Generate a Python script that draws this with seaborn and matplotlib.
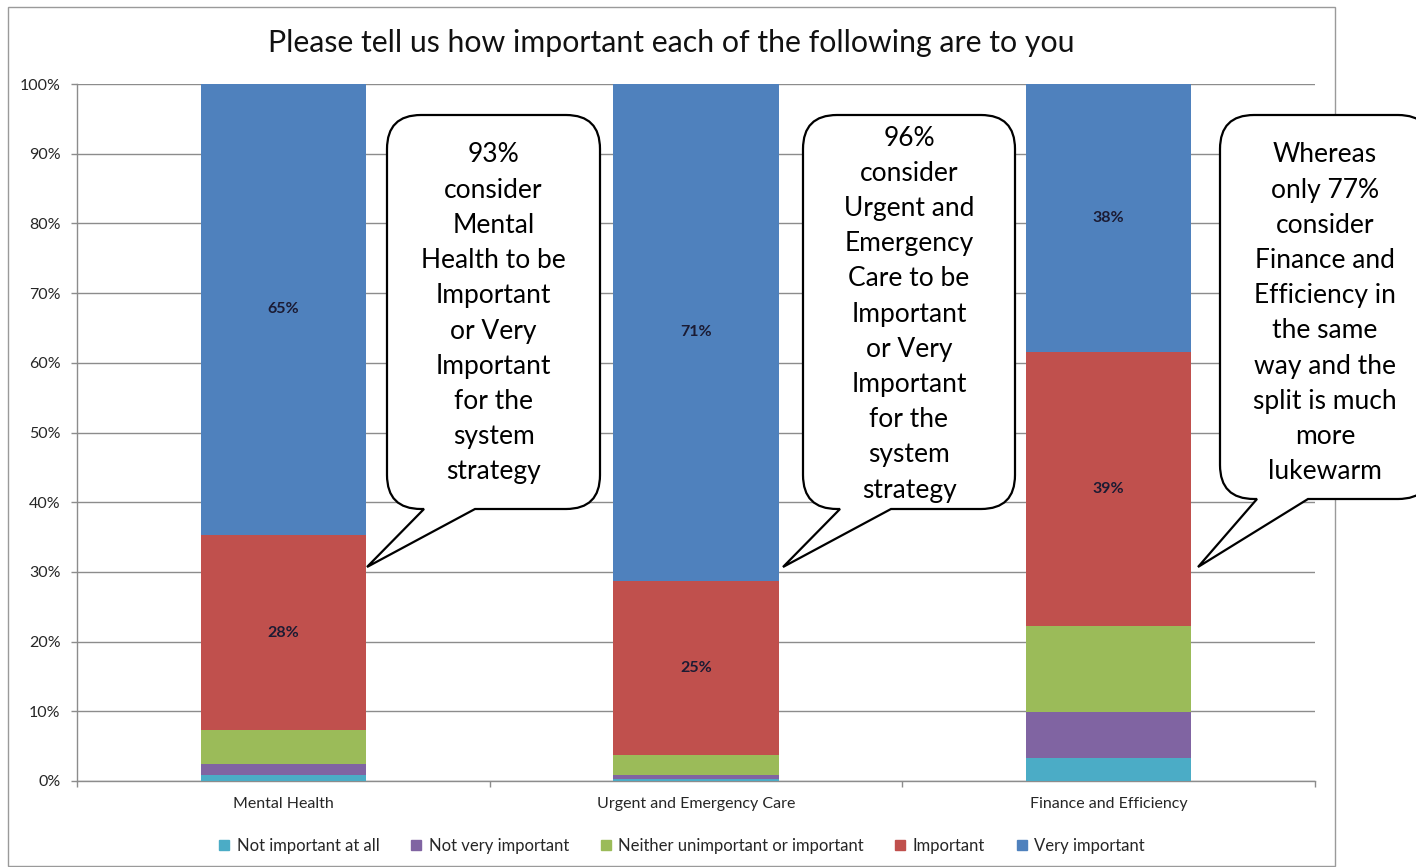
import numpy as np
import matplotlib
matplotlib.use("Agg")
import matplotlib.pyplot as plt
import seaborn as sns
from matplotlib.path import Path
from matplotlib.patches import PathPatch, Rectangle
from matplotlib.lines import Line2D

# ---- data -------------------------------------------------------------
categories = ["Mental Health", "Urgent and Emergency Care", "Finance and Efficiency"]
series_names = ["Not important at all", "Not very important",
                "Neither unimportant or important", "Important", "Very important"]
not_important_at_all = [0.9, 0.3, 3.3]
not_very_important = [1.5, 0.5, 6.6]
neither_important = [4.9, 2.9, 12.4]
important = [28.0, 25.0, 39.3]
very_important = [64.7, 71.3, 38.4]
labelled_series = ["Important", "Very important"]
y_ticks = [0, 10, 20, 30, 40, 50, 60, 70, 80, 90, 100]

title = "Please tell us how important each of the following are to you"
callout_texts = [
    ["93%", "consider", "Mental", "Health to be", "Important", "or Very",
     "Important", "for the", "system", "strategy"],
    ["96%", "consider", "Urgent and", "Emergency", "Care to be", "Important",
     "or Very", "Important", "for the", "system", "strategy"],
    ["Whereas", "only 77%", "consider", "Finance and", "Efficiency in",
     "the same", "way and the", "split is much", "more", "lukewarm"],
]

# ---- style ------------------------------------------------------------
sns.set_style("white")
plt.rcParams["font.family"] = ["Lato", "DejaVu Sans"]
colors = ["#4BACC6", "#8064A2", "#9BBB59", "#C0504D", "#4F81BD"]
grid_grey = "#8c8c8c"
W, H = 1416, 867

fig = plt.figure(figsize=(W / 100, H / 100), dpi=100)
fig.patch.set_facecolor("white")


def fx(px):
    return px / W


def fy(py):
    return 1 - py / H


# outer chart frame
fig.add_artist(Rectangle((fx(8), fy(866)), fx(1335) - fx(8), fy(7) - fy(866),
                         transform=fig.transFigure, fill=False,
                         edgecolor="#9a9a9a", linewidth=1.0, zorder=0))

ax = fig.add_axes([fx(77), fy(781), fx(1315) - fx(77), fy(84) - fy(781)])

# ---- stacked bars -----------------------------------------------------
series_values = [not_important_at_all, not_very_important, neither_important,
                 important, very_important]
bottom = np.zeros(len(categories))
for name, vals, col in zip(series_names, series_values, colors):
    vals = np.asarray(vals, dtype=float)
    sns.barplot(x=categories, y=vals, order=categories, color=col,
                saturation=1, width=0.4, bottom=bottom, errorbar=None,
                linewidth=0, ax=ax, zorder=3)
    if name in labelled_series:
        ax.bar_label(ax.containers[-1], labels=[f"{v:.0f}%" for v in vals],
                     label_type="center", fontsize=11.5, fontweight="bold",
                     color="#1b1b33", zorder=5)
    bottom += vals

# ---- axes -------------------------------------------------------------
ax.set_xlim(-0.5, len(categories) - 0.5)
ax.set_ylim(0, 100)
ax.set_yticks(y_ticks)
ax.set_yticklabels([f"{t}%" for t in y_ticks])
ax.set_xlabel("")
ax.set_ylabel("")
ax.yaxis.grid(True, color=grid_grey, linewidth=1.0, zorder=0)
ax.set_axisbelow(True)
for side in ["top", "right"]:
    ax.spines[side].set_visible(False)
for side in ["left", "bottom"]:
    ax.spines[side].set_color(grid_grey)
    ax.spines[side].set_linewidth(1.0)
ax.tick_params(axis="y", which="major", left=True, length=4, width=1,
               color=grid_grey, labelsize=11.5, labelcolor="#262626", pad=8)
ax.tick_params(axis="x", which="major", bottom=False, labelsize=11.5,
               labelcolor="#262626", pad=8)
ax.set_xticks(np.arange(-0.5, len(categories)), minor=True)
ax.tick_params(axis="x", which="minor", bottom=True, length=4, width=1,
               color=grid_grey)

# ---- title ------------------------------------------------------------
fig.text(fx(671), fy(43), title, ha="center", va="center", fontsize=21.8,
         color="#111111")

# ---- legend -----------------------------------------------------------
handles = [Line2D([0], [0], marker="s", linestyle="none", markersize=6.5,
                  markerfacecolor=c, markeredgecolor=c) for c in colors]
fig.legend(handles, series_names, loc="center", bbox_to_anchor=(fx(682), fy(846)),
           ncol=5, frameon=False, fontsize=12, handlelength=0.6,
           handletextpad=0.45, columnspacing=1.9, labelcolor="#262626")


# ---- speech-bubble callouts -------------------------------------------
def bubble(x0, y0, x1, y1, r, base_l, base_r, tip):
    pts = [
        ((x0 + r, y0), Path.MOVETO),
        ((x1 - r, y0), Path.LINETO),
        ((x1, y0), Path.CURVE3), ((x1, y0 + r), Path.CURVE3),
        ((x1, y1 - r), Path.LINETO),
        ((x1, y1), Path.CURVE3), ((x1 - r, y1), Path.CURVE3),
        ((base_r, y1), Path.LINETO),
        (tip, Path.LINETO),
        ((base_l, y1), Path.LINETO),
        ((x0 + r, y1), Path.LINETO),
        ((x0, y1), Path.CURVE3), ((x0, y1 - r), Path.CURVE3),
        ((x0, y0 + r), Path.LINETO),
        ((x0, y0), Path.CURVE3), ((x0 + r, y0), Path.CURVE3),
        ((x0 + r, y0), Path.CLOSEPOLY),
    ]
    verts = [(fx(p[0]), fy(p[1])) for p, _ in pts]
    codes = [c for _, c in pts]
    fig.add_artist(PathPatch(Path(verts, codes), transform=fig.transFigure,
                             facecolor="white", edgecolor="black",
                             linewidth=1.6, joinstyle="miter", zorder=10))


boxes = [
    dict(x0=387, y0=115, x1=600, y1=509, tip=(367, 567), first=155),
    dict(x0=803, y0=115, x1=1015, y1=509, tip=(783, 567), first=138),
    dict(x0=1220, y0=115, x1=1432, y1=499, tip=(1198, 567), first=155),
]
line_step = 35.2
for box, lines in zip(boxes, callout_texts):
    bubble(box["x0"], box["y0"], box["x1"], box["y1"], 34,
           box["x0"] + 37, box["x0"] + 88, box["tip"])
    cx = (box["x0"] + min(box["x1"], 1430)) / 2
    for i, line in enumerate(lines):
        fig.text(fx(cx), fy(box["first"] + i * line_step), line,
                 ha="center", va="center", fontsize=19, color="black",
                 zorder=11)

fig.savefig("out.png", dpi=100, facecolor="white")
